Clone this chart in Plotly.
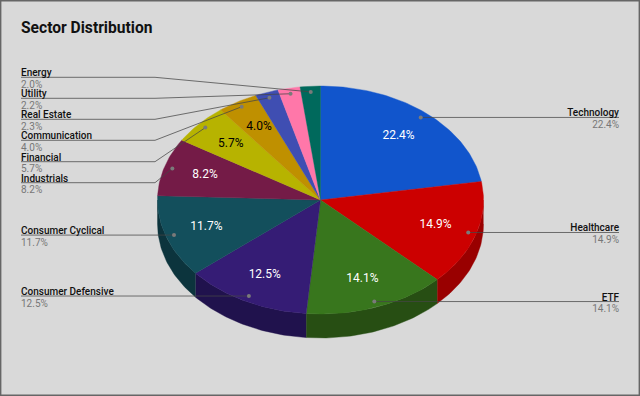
import math
import plotly.graph_objects as go

# ---- data ----
sectors = ["Technology", "Healthcare", "ETF", "Consumer Defensive", "Consumer Cyclical",
           "Industrials", "Financial", "Communication", "Real Estate", "Utility", "Energy"]
shares = [22.4, 14.9, 14.1, 12.5, 11.7, 8.2, 5.7, 4.0, 2.3, 2.2, 2.0]

# ---- styles ----
top_colors = ["#1155cc", "#cc0000", "#38761d", "#351c75", "#134f5c", "#741b47",
              "#b7b300", "#bf9000", "#3f4eb2", "#ff77a9", "#00695c"]
side_colors = ["#0b3d91", "#990000", "#274e13", "#20124d", "#0c343d", "#4c1130",
               "#7f7c00", "#7f6000", "#2a3679", "#b3537a", "#004a40"]
inside_text = ["white", "white", "white", "white", "white", "white",
               "black", "black", None, None, None]

# ---- layout geometry (pixels of the 640x396 canvas) ----
CX, CY, RX, RY, DEPTH = 320.5, 200, 163, 114, 24
LEFT_X, RIGHT_X, ELBOW_X = 21, 619, 155
# underline rows of the labels that cannot stay level with their dot
row_y = {"Energy": 77.3, "Utility": 98.3, "Real Estate": 119.3,
         "Communication": 140.3, "Financial": 161.7, "Industrials": 182.7}
GREY_LINE = "rgba(70,70,70,0.75)"


def pt(deg, r=1.0, dy=0.0):
    a = math.radians(deg)
    return CX + RX * r * math.sin(a), CY - RY * r * math.cos(a) + dy


def arc(a0, a1):
    n = max(2, int(abs(a1 - a0)) + 2)
    return [a0 + (a1 - a0) * i / (n - 1) for i in range(n)]


fig = go.Figure()


def poly(points, color):
    fig.add_trace(go.Scatter(x=[p[0] for p in points], y=[p[1] for p in points], mode="lines",
                             fill="toself", fillcolor=color, line=dict(color=color, width=0.4),
                             hoverinfo="skip", showlegend=False))


total = sum(shares)
starts, cum = [], 0.0
for v in shares:
    starts.append(cum / total * 360)
    cum += v
ends = starts[1:] + [360.0]
mids = [(s + e) / 2 for s, e in zip(starts, ends)]

# extruded rim: only the front half (90..270 degrees) is visible
for s, e, c in zip(starts, ends, side_colors):
    a0, a1 = max(s, 90), min(e, 270)
    if a1 > a0:
        angs = arc(a0, a1)
        poly([pt(t) for t in angs] + [pt(t, dy=DEPTH) for t in reversed(angs)], c)

# top face
for s, e, c in zip(starts, ends, top_colors):
    poly([(CX, CY)] + [pt(t) for t in arc(s, e)] + [(CX, CY)], c)

# leader lines and dots
for name, m in zip(sectors, mids):
    dx, dy = pt(m, 0.95)
    right = m < 180
    end_x = RIGHT_X if right else LEFT_X
    if name in row_y:
        xs, ys = [dx, ELBOW_X, end_x], [dy, row_y[name], row_y[name]]
    else:
        xs, ys = [dx, end_x], [dy, dy]
    fig.add_trace(go.Scatter(x=xs, y=ys, mode="lines", line=dict(color=GREY_LINE, width=1),
                             hoverinfo="skip", showlegend=False))
    fig.add_trace(go.Scatter(x=[dx], y=[dy], mode="markers", marker=dict(color="#7a7a7a", size=4),
                             hoverinfo="skip", showlegend=False))
    pos = "right" if not right else "left"
    fig.add_trace(go.Scatter(x=[end_x], y=[ys[-1] + 1.5], mode="text", text=[name],
                             textposition="top " + pos,
                             textfont=dict(family="Roboto", size=10, color="#111111", weight=500),
                             hoverinfo="skip", showlegend=False))

for name, v, m in zip(sectors, shares, mids):
    _, dy = pt(m, 0.95)
    right = m < 180
    y = row_y.get(name, dy)
    fig.add_trace(go.Scatter(x=[RIGHT_X if right else LEFT_X], y=[y + 3], mode="text",
                             text=[f"{v:.1f}%"],
                             textposition="bottom " + ("left" if right else "right"),
                             textfont=dict(family="Roboto", size=10, color="#777777"),
                             hoverinfo="skip", showlegend=False))

# values inside the slices
for v, m, col in zip(shares, mids, inside_text):
    if col:
        x, y = pt(m, 0.74)
        fig.add_trace(go.Scatter(x=[x], y=[y], mode="text", text=[f"{v:.1f}%"],
                                 textposition="middle center",
                                 textfont=dict(family="Roboto", size=12, color=col),
                                 hoverinfo="skip", showlegend=False))

fig.update_layout(
    width=640, height=396, margin=dict(l=0, r=0, t=0, b=0),
    paper_bgcolor="#d9d9d9", plot_bgcolor="#d9d9d9", showlegend=False,
    xaxis=dict(range=[0, 640], visible=False, fixedrange=True),
    yaxis=dict(range=[396, 0], visible=False, fixedrange=True),
    annotations=[dict(text="Sector Distribution", x=LEFT_X - 2, y=27.5, xref="x", yref="y",
                      xanchor="left", yanchor="middle", showarrow=False,
                      font=dict(family="Roboto", size=15.6, color="#111111", weight=700))],
    shapes=[dict(type="rect", xref="x", yref="y", x0=0.7, y0=0.7, x1=639.3, y1=395.3,
                 line=dict(color="#666666", width=1.4), fillcolor="rgba(0,0,0,0)", layer="above")],
)
fig.write_html("out.html", config={"displayModeBar": False},
               post_script="document.body.style.margin='0';document.documentElement.style.overflow='hidden';")
